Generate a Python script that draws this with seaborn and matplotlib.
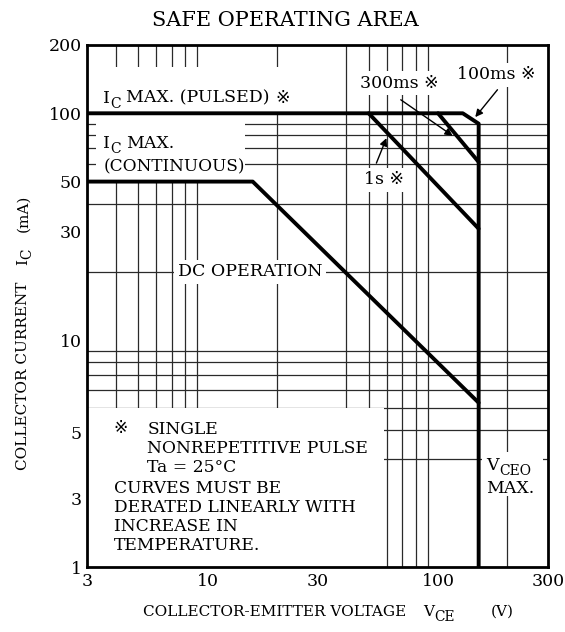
import matplotlib
matplotlib.use("Agg")
import matplotlib.pyplot as plt
from matplotlib.ticker import NullFormatter
from matplotlib.patches import Rectangle
from matplotlib.transforms import offset_copy
import seaborn as sns

## Safe operating area (V_CE in volts, I_C in mA)

dc_v = [3, 15.7, 150]
dc_ic = [50, 50, 5.3]
s1_v = [50, 150]
s1_ic = [100, 31]
ms300_v = [100, 150]
ms300_ic = [100, 61]
ms100_v = [3, 128, 150, 150]
ms100_ic = [100, 100, 90, 1]

x_ticks = [3, 10, 30, 100, 300]
x_ticklabels = ["3", "10", "30", "100", "300"]
# label positions as printed on the sheet
y_ticks = [1, 2.0, 3.9, 10, 30, 50, 100, 200]
y_ticklabels = ["1", "3", "5", "10", "30", "50", "100", "200"]
x_grid = [4, 5, 6, 7, 8, 9, 10, 20, 30, 40, 50, 60, 70, 80, 90, 100, 200]
y_grid = [2, 3, 4, 5, 6, 7, 8, 9, 10, 20, 30, 40, 50, 60, 70, 80, 90, 100]

sns.set_theme(style="white")
plt.rcParams["font.family"] = ["DejaVu Serif", "DejaVu Sans", "Noto Sans CJK JP"]
plt.rcParams["text.color"] = "black"

fig = plt.figure(figsize=(5.65, 6.32), dpi=100)
ax = fig.add_axes([0.154, 0.1028, 0.816, 0.826])
ax.set_xscale("log")
ax.set_yscale("log")

for v, ic in [(dc_v, dc_ic), (s1_v, s1_ic), (ms300_v, ms300_ic), (ms100_v, ms100_ic)]:
    sns.lineplot(x=v, y=ic, ax=ax, sort=False, estimator=None, color="black",
                 lw=2.8, zorder=4)

ax.set_xlim(3, 300)
ax.set_ylim(1, 200)
ax.set_xticks(x_ticks)
ax.set_xticklabels(x_ticklabels)
ax.set_yticks(y_ticks)
ax.set_yticklabels(y_ticklabels)
ax.set_xticks(x_grid, minor=True)
ax.set_yticks(y_grid, minor=True)
ax.xaxis.set_minor_formatter(NullFormatter())
ax.yaxis.set_minor_formatter(NullFormatter())
ax.tick_params(which="both", length=0, labelsize=12.5, colors="black")
ax.tick_params(axis="x", pad=4)
ax.tick_params(axis="y", pad=4)
ax.grid(False, which="major")
ax.grid(True, which="minor", color="#2a2a2a", lw=0.9)
ax.set_axisbelow(True)
for s in ax.spines.values():
    s.set_color("black")
    s.set_linewidth(2)

renderer = fig.canvas.get_renderer()


def rich(target, x, y, parts, size, coords, rotation=0, sub_scale=0.8):
    # parts: (text, is_subscript, gap after in points)
    adv = 0.0
    for s, sub, gap in parts:
        fsz = size * sub_scale if sub else size
        drop = size * 0.3 if sub else 0.0
        if rotation == 0:
            ox, oy = adv, -drop
        else:
            ox, oy = drop, adv
        tr = offset_copy(coords, fig=fig, x=ox, y=oy, units="points")
        t = target.text(x, y, s, transform=tr, fontsize=fsz, rotation=rotation,
                        rotation_mode="anchor", ha="left", va="baseline", zorder=3)
        ext = t.get_window_extent(renderer)
        adv += (ext.width if rotation == 0 else ext.height) * 72 / fig.dpi + gap


def blank(x0, x1, y0, y1):
    ax.add_patch(Rectangle((x0, y0), x1 - x0, y1 - y0, facecolor="white",
                           edgecolor="none", zorder=2))


fs = 12.5
box = dict(facecolor="white", edgecolor="none", pad=2.5)

# white areas behind the labels
blank(3, 58, 1, 5)
blank(3.27, 22, 100, 160)
blank(3.27, 14.5, 50, 100)
blank(154.4, 285, 2.05, 3.2)

rich(ax, 3.53, 111.3, [("I", False, 0), ("C", True, 4), ("MAX. (PULSED)", False, 4), ("※", False, 0)],
     fs, ax.transData)
rich(ax, 3.53, 70.4, [("I", False, 0), ("C", True, 4), ("MAX.", False, 0)], fs, ax.transData)
ax.text(3.53, 55.7, "(CONTINUOUS)", fontsize=12.2, ha="left", va="baseline", zorder=3)
rich(ax, 162.2, 2.69, [("V", False, 0), ("CEO", True, 0)], fs, ax.transData)
ax.text(162.2, 2.11, "MAX.", fontsize=fs, ha="left", va="baseline", zorder=3)

ax.text(67.7, 135.9, "300ms ※", fontsize=fs, ha="center", va="center", bbox=box, zorder=3)
ax.text(179, 148, "100ms ※", fontsize=fs, ha="center", va="center", bbox=box, zorder=3)
ax.text(58.1, 50.9, "1s ※", fontsize=fs, ha="center", va="center", bbox=box, zorder=3)
ax.text(15.3, 20.0, "DC OPERATION", fontsize=fs, ha="center", va="center", bbox=box, zorder=3)

arrow = dict(arrowstyle="-|>", color="black", lw=1, shrinkA=0, shrinkB=0, mutation_scale=11)
ax.annotate("", xy=(115.7, 79.6), xytext=(68.9, 114.7), arrowprops=arrow, zorder=5)
ax.annotate("", xy=(145, 96.2), xytext=(181, 127), arrowprops=arrow, zorder=5)
ax.annotate("", xy=(59.7, 77.7), xytext=(54.0, 60.3), arrowprops=arrow, zorder=5)

nfs = 12.3
ax.text(3.91, 4.09, "※", fontsize=nfs, ha="left", va="center", zorder=3)
ax.text(5.48, 3.34, "SINGLE\nNONREPETITIVE PULSE\nTa = 25°C", fontsize=nfs,
        linespacing=1.15, ha="left", va="center", zorder=3)
ax.text(3.91, 1.66, "CURVES MUST BE\nDERATED LINEARLY WITH\nINCREASE IN\nTEMPERATURE.",
        fontsize=nfs, linespacing=1.15, ha="left", va="center", zorder=3)

fig.text(0.505, 0.967, "SAFE OPERATING AREA", fontsize=15, ha="center", va="center")
rich(fig, 0.253, 0.0253, [("COLLECTOR-EMITTER VOLTAGE", False, 12), ("V", False, 0),
                          ("CE", True, 26), ("(V)", False, 0)], 11, fig.transFigure,
     sub_scale=0.9)
rich(fig, 0.048, 0.256, [("COLLECTOR CURRENT", False, 12), ("I", False, 0),
                         ("C", True, 12), ("(mA)", False, 0)], 11, fig.transFigure,
     rotation=90, sub_scale=0.9)

fig.savefig("out.png", dpi=100)
